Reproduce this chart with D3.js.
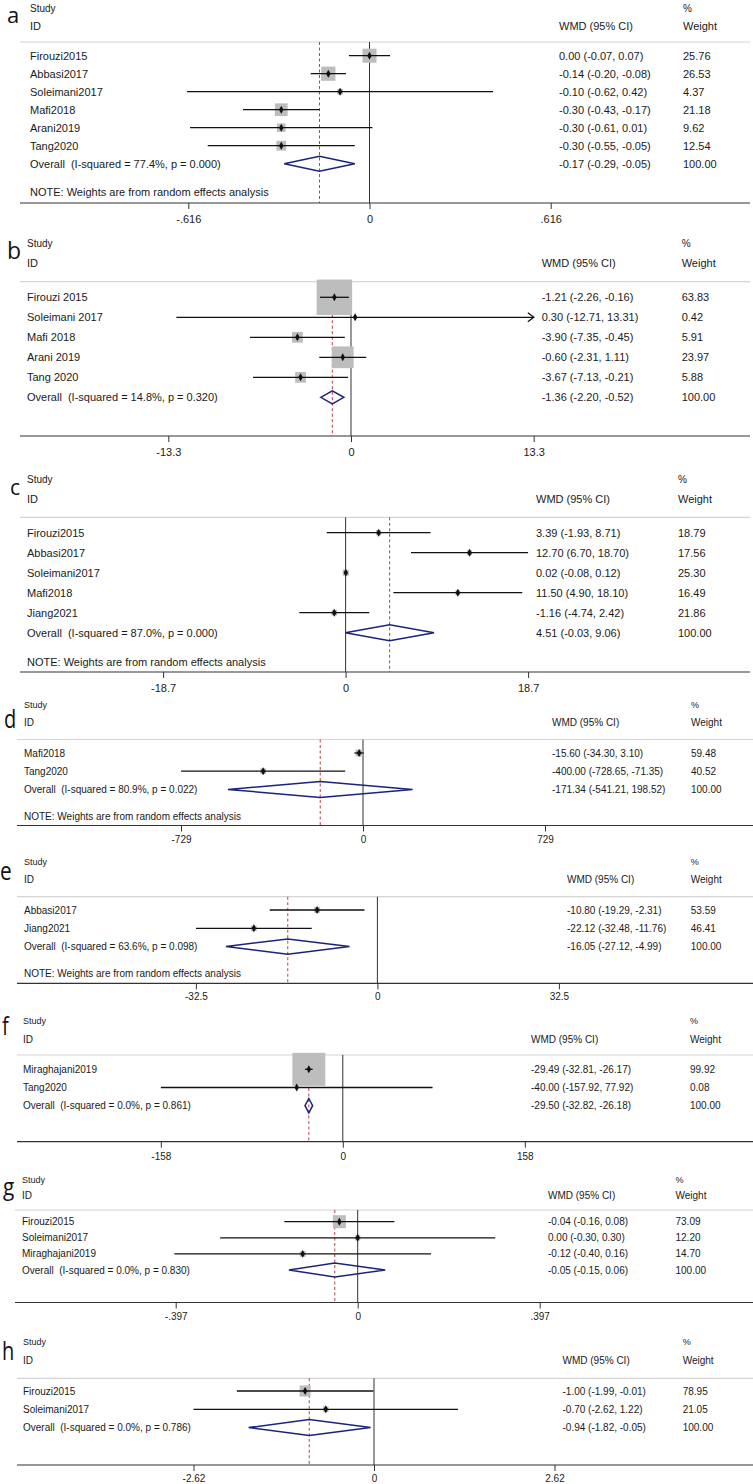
<!DOCTYPE html>
<html>
<head>
<meta charset="utf-8">
<script src="https://cdn.jsdelivr.net/npm/d3@7"></script>
<style>
  body { margin: 0; background: #fff; }
  text { font-family: "Liberation Sans", Arial, sans-serif; fill: #1a1a1a; }
</style>
</head>
<body>
<div class="forest"></div>
<script>
// panel a
var aStudy = ["Firouzi2015", "Abbasi2017", "Soleimani2017", "Mafi2018", "Arani2019", "Tang2020"];
var aWmd = [0.00, -0.14, -0.10, -0.30, -0.30, -0.30];
var aLo = [-0.07, -0.20, -0.62, -0.43, -0.61, -0.55];
var aHi = [0.07, -0.08, 0.42, -0.17, 0.01, -0.05];
var aWeight = [25.76, 26.53, 4.37, 21.18, 9.62, 12.54];
var aOverall = [-0.17, -0.29, -0.05];
var aHet = [77.4, 0.000];
var aTicks = [-0.616, 0, 0.616];
var aTickLabels = ["-.616", "0", ".616"];

// panel b
var bStudy = ["Firouzi 2015", "Soleimani 2017", "Mafi 2018", "Arani 2019", "Tang 2020"];
var bWmd = [-1.21, 0.30, -3.90, -0.60, -3.67];
var bLo = [-2.26, -12.71, -7.35, -2.31, -7.13];
var bHi = [-0.16, 13.31, -0.45, 1.11, -0.21];
var bWeight = [63.83, 0.42, 5.91, 23.97, 5.88];
var bOverall = [-1.36, -2.20, -0.52];
var bHet = [14.8, 0.320];
var bTicks = [-13.3, 0, 13.3];
var bTickLabels = ["-13.3", "0", "13.3"];

// panel c
var cStudy = ["Firouzi2015", "Abbasi2017", "Soleimani2017", "Mafi2018", "Jiang2021"];
var cWmd = [3.39, 12.70, 0.02, 11.50, -1.16];
var cLo = [-1.93, 6.70, -0.08, 4.90, -4.74];
var cHi = [8.71, 18.70, 0.12, 18.10, 2.42];
var cWeight = [18.79, 17.56, 25.30, 16.49, 21.86];
var cOverall = [4.51, -0.03, 9.06];
var cHet = [87.0, 0.000];
var cTicks = [-18.7, 0, 18.7];
var cTickLabels = ["-18.7", "0", "18.7"];

// panel d
var dStudy = ["Mafi2018", "Tang2020"];
var dWmd = [-15.60, -400.00];
var dLo = [-34.30, -728.65];
var dHi = [3.10, -71.35];
var dWeight = [59.48, 40.52];
var dOverall = [-171.34, -541.21, 198.52];
var dHet = [80.9, 0.022];
var dTicks = [-729, 0, 729];
var dTickLabels = ["-729", "0", "729"];

// panel e
var eStudy = ["Abbasi2017", "Jiang2021"];
var eWmd = [-10.80, -22.12];
var eLo = [-19.29, -32.48];
var eHi = [-2.31, -11.76];
var eWeight = [53.59, 46.41];
var eOverall = [-16.05, -27.12, -4.99];
var eHet = [63.6, 0.098];
var eTicks = [-32.5, 0, 32.5];
var eTickLabels = ["-32.5", "0", "32.5"];

// panel f
var fStudy = ["Miraghajani2019", "Tang2020"];
var fWmd = [-29.49, -40.00];
var fLo = [-32.81, -157.92];
var fHi = [-26.17, 77.92];
var fWeight = [99.92, 0.08];
var fOverall = [-29.50, -32.82, -26.18];
var fHet = [0.0, 0.861];
var fTicks = [-158, 0, 158];
var fTickLabels = ["-158", "0", "158"];

// panel g
var gStudy = ["Firouzi2015", "Soleimani2017", "Miraghajani2019"];
var gWmd = [-0.04, 0.00, -0.12];
var gLo = [-0.16, -0.30, -0.40];
var gHi = [0.08, 0.30, 0.16];
var gWeight = [73.09, 12.20, 14.70];
var gOverall = [-0.05, -0.15, 0.06];
var gHet = [0.0, 0.830];
var gTicks = [-0.397, 0, 0.397];
var gTickLabels = ["-.397", "0", ".397"];

// panel h
var hStudy = ["Firouzi2015", "Soleimani2017"];
var hWmd = [-1.00, -0.70];
var hLo = [-1.99, -2.62];
var hHi = [-0.01, 1.22];
var hWeight = [78.95, 21.05];
var hOverall = [-0.94, -1.82, -0.05];
var hHet = [0.0, 0.786];
var hTicks = [-2.62, 0, 2.62];
var hTickLabels = ["-2.62", "0", "2.62"];

var panels = [
  { id: "a", study: aStudy, wmd: aWmd, lo: aLo, hi: aHi, weight: aWeight, overall: aOverall, het: aHet, ticks: aTicks, tickLabels: aTickLabels, note: true },
  { id: "b", study: bStudy, wmd: bWmd, lo: bLo, hi: bHi, weight: bWeight, overall: bOverall, het: bHet, ticks: bTicks, tickLabels: bTickLabels, note: false },
  { id: "c", study: cStudy, wmd: cWmd, lo: cLo, hi: cHi, weight: cWeight, overall: cOverall, het: cHet, ticks: cTicks, tickLabels: cTickLabels, note: true },
  { id: "d", study: dStudy, wmd: dWmd, lo: dLo, hi: dHi, weight: dWeight, overall: dOverall, het: dHet, ticks: dTicks, tickLabels: dTickLabels, note: true },
  { id: "e", study: eStudy, wmd: eWmd, lo: eLo, hi: eHi, weight: eWeight, overall: eOverall, het: eHet, ticks: eTicks, tickLabels: eTickLabels, note: true },
  { id: "f", study: fStudy, wmd: fWmd, lo: fLo, hi: fHi, weight: fWeight, overall: fOverall, het: fHet, ticks: fTicks, tickLabels: fTickLabels, note: false },
  { id: "g", study: gStudy, wmd: gWmd, lo: gLo, hi: gHi, weight: gWeight, overall: gOverall, het: gHet, ticks: gTicks, tickLabels: gTickLabels, note: false },
  { id: "h", study: hStudy, wmd: hWmd, lo: hLo, hi: hHi, weight: hWeight, overall: hOverall, het: hHet, ticks: hTicks, tickLabels: hTickLabels, note: false }
];

// where each panel sits on the page
var layout = {
  a: { studyY: 8, idY: 25.5, sepY: 42, row0: 55.7, step: 18, noteY: 192, axisY: 203, zeroX: 369.5, span: 181.2, labelX: 30, wmdX: 559, wtX: 683, font: 11, hFont: 10, x0: 20, x1: 750, boxMax: 27.6, dia: 7.5, tickPad: 6, lx: 7, ly: 23, ls: 22, lsx: 1 },
  b: { studyY: 243, idY: 263, sepY: 281.7, row0: 297.3, step: 20, noteY: 0, axisY: 436, zeroX: 351, span: 182.7, labelX: 27, wmdX: 541.7, wtX: 681.7, font: 11, hFont: 10, x0: 20, x1: 750, boxMax: 44.4, dia: 6.5, tickPad: 6, lx: 7, ly: 259, ls: 23, lsx: 1 },
  c: { studyY: 479, idY: 499, sepY: 517.3, row0: 532.7, step: 20, noteY: 661.7, axisY: 672, zeroX: 345.6, span: 182.5, labelX: 27, wmdX: 536, wtX: 678, font: 11, hFont: 10, x0: 20, x1: 750, boxMax: 12, dia: 8, tickPad: 6, lx: 10, ly: 495, ls: 21, lsx: 1 },
  d: { studyY: 705, idY: 722, sepY: 739.5, row0: 753, step: 18.2, noteY: 816.7, axisY: 825.5, zeroX: 363, span: 182, labelX: 24, wmdX: 552, wtX: 691, font: 10, hFont: 9, x0: 17, x1: 753, boxMax: 9, dia: 8, tickPad: 4, lx: 4, ly: 728, ls: 25, lsx: 0.8 },
  e: { studyY: 862, idY: 879.3, sepY: 896.7, row0: 910, step: 18.3, noteY: 973.3, axisY: 983.3, zeroX: 377.4, span: 181.5, labelX: 24, wmdX: 567, wtX: 690.8, font: 10, hFont: 9, x0: 17, x1: 753, boxMax: 8.2, dia: 7.7, tickPad: 4, lx: 0, ly: 880, ls: 26, lsx: 0.8 },
  f: { studyY: 1020.7, idY: 1039, sepY: 1055, row0: 1069.3, step: 18.2, noteY: 0, axisY: 1141.7, zeroX: 342.8, span: 182, labelX: 23, wmdX: 531, wtX: 690, font: 10, hFont: 9, x0: 17, x1: 753, boxMax: 33, dia: 7.2, tickPad: 5, lx: 2, ly: 1035, ls: 25, lsx: 0.8 },
  g: { studyY: 1179.5, idY: 1195, sepY: 1210, row0: 1221.7, step: 16.1, noteY: 0, axisY: 1302.5, zeroX: 357.7, span: 182, labelX: 22, wmdX: 548, wtX: 675.5, font: 10, hFont: 9, x0: 15, x1: 753, boxMax: 15.2, dia: 7, tickPad: 4, lx: 3, ly: 1195, ls: 23, lsx: 0.9 },
  h: { studyY: 1342.3, idY: 1360.7, sepY: 1378.3, row0: 1391, step: 18.3, noteY: 0, axisY: 1465, zeroX: 374, span: 180.5, labelX: 23, wmdX: 562.5, wtX: 682.7, font: 10, hFont: 9, x0: 17, x1: 753, boxMax: 12.4, dia: 8, tickPad: 4, lx: 2, ly: 1360, ls: 25, lsx: 0.8 }
};

var locale = d3.formatLocale({ decimal: ".", thousands: ",", grouping: [3], currency: ["", ""], minus: "-" });
var fmt = locale.format(".2f");
var fmt1 = locale.format(".1f");
var fmt3 = locale.format(".3f");

var svg = d3
  .select(".forest")
  .append("svg")
  .attr("width", 753)
  .attr("height", 1484)
  .style("background", "#fff");

panels.forEach(function(p) {
  var L = layout[p.id];
  var g = svg.append("g");
  var n = p.study.length;

  var x = d3.scaleLinear().domain([0, p.ticks[2]]).range([L.zeroX, L.zeroX + L.span]);
  var y = d3.scaleLinear().domain([0, 1]).range([L.row0, L.row0 + L.step]);
  var box = d3.scaleSqrt().domain([0, 100]).range([0, L.boxMax]);

  var rows = p.study.map(function(s, i) {
    return { name: s, wmd: p.wmd[i], lo: p.lo[i], hi: p.hi[i], w: p.weight[i], i: i };
  });

  // panel letter
  g.append("text")
    .attr("transform", "translate(" + L.lx + "," + L.ly + ") scale(" + L.lsx + ",1)")
    .style("font-family", "'Open Sans', sans-serif")
    .style("font-size", L.ls + "px")
    .style("fill", "#111")
    .text(p.id);

  // headers
  var head = [
    { t: "Study", x: L.labelX, y: L.studyY, s: L.hFont },
    { t: "ID", x: L.labelX, y: L.idY, s: L.font },
    { t: "WMD (95% CI)", x: L.wmdX, y: L.idY, s: L.font },
    { t: "%", x: L.wtX, y: L.studyY, s: L.hFont },
    { t: "Weight", x: L.wtX, y: L.idY, s: L.font }
  ];
  g.selectAll(".head")
    .data(head)
    .enter()
    .append("text")
    .attr("x", function(d) { return d.x; })
    .attr("y", function(d) { return d.y; })
    .attr("dominant-baseline", "central")
    .style("font-size", function(d) { return d.s + "px"; })
    .text(function(d) { return d.t; });

  // separator under the header
  g.append("line")
    .attr("x1", L.x0).attr("x2", L.x1)
    .attr("y1", L.sepY).attr("y2", L.sepY)
    .attr("stroke", "#d4d4d4")
    .attr("stroke-width", 1.2);

  // no-effect line
  g.append("line")
    .attr("x1", x(0)).attr("x2", x(0))
    .attr("y1", L.sepY).attr("y2", L.axisY)
    .attr("stroke", "#333")
    .attr("stroke-width", 1);

  // pooled estimate line
  g.append("line")
    .attr("x1", x(p.overall[0])).attr("x2", x(p.overall[0]))
    .attr("y1", L.sepY).attr("y2", L.axisY)
    .attr("stroke", "#b8424a")
    .attr("stroke-width", 1)
    .attr("stroke-dasharray", "3,2.5");

  // weight boxes
  g.selectAll(".box")
    .data(rows)
    .enter()
    .append("rect")
    .attr("x", function(d) { return x(d.wmd) - box(d.w) / 2; })
    .attr("y", function(d) { return y(d.i) - box(d.w) / 2; })
    .attr("width", function(d) { return box(d.w); })
    .attr("height", function(d) { return box(d.w); })
    .attr("fill", "#bdbdbd");

  // confidence intervals
  g.selectAll(".ci")
    .data(rows)
    .enter()
    .append("line")
    .attr("x1", function(d) { return x(d.lo); })
    .attr("x2", function(d) { return x(d.hi); })
    .attr("y1", function(d) { return y(d.i); })
    .attr("y2", function(d) { return y(d.i); })
    .attr("stroke", "#111")
    .attr("stroke-width", 1.3);

  // arrow when the interval runs past the last tick
  g.selectAll(".arrow")
    .data(rows.filter(function(d) { return d.hi > p.ticks[2] + 1e-9; }))
    .enter()
    .append("path")
    .attr("d", function(d) {
      var tx = x(d.hi), ty = y(d.i);
      return "M" + (tx - 6) + "," + (ty - 4.5) + "L" + tx + "," + ty + "L" + (tx - 6) + "," + (ty + 4.5);
    })
    .attr("fill", "none")
    .attr("stroke", "#111")
    .attr("stroke-width", 1.3);

  // point estimates
  g.selectAll(".pt")
    .data(rows)
    .enter()
    .append("path")
    .attr("d", d3.symbol().type(d3.symbolDiamond).size(18))
    .attr("transform", function(d) { return "translate(" + x(d.wmd) + "," + y(d.i) + ")"; })
    .attr("fill", "#111");

  // pooled diamond
  var oy = y(n);
  g.append("path")
    .attr("d", "M" + x(p.overall[1]) + "," + oy +
      "L" + x(p.overall[0]) + "," + (oy - L.dia) +
      "L" + x(p.overall[2]) + "," + oy +
      "L" + x(p.overall[0]) + "," + (oy + L.dia) + "Z")
    .attr("fill", "none")
    .attr("stroke", "#1b237a")
    .attr("stroke-width", 1.5);

  // row texts
  var textRows = rows.map(function(d) {
    return { y: y(d.i), label: d.name, ci: fmt(d.wmd) + " (" + fmt(d.lo) + ", " + fmt(d.hi) + ")", w: fmt(d.w) };
  });
  textRows.push({
    y: oy,
    label: "Overall  (I-squared = " + fmt1(p.het[0]) + "%, p = " + fmt3(p.het[1]) + ")",
    ci: fmt(p.overall[0]) + " (" + fmt(p.overall[1]) + ", " + fmt(p.overall[2]) + ")",
    w: fmt(100)
  });
  var cols = [
    { k: "label", x: L.labelX },
    { k: "ci", x: L.wmdX },
    { k: "w", x: L.wtX }
  ];
  cols.forEach(function(c) {
    g.selectAll(".t-" + c.k)
      .data(textRows)
      .enter()
      .append("text")
      .attr("x", c.x)
      .attr("y", function(d) { return d.y; })
      .attr("dominant-baseline", "central")
      .style("font-size", L.font + "px")
      .style("white-space", "pre")
      .text(function(d) { return d[c.k]; });
  });

  if (p.note) {
    g.append("text")
      .attr("x", L.labelX)
      .attr("y", L.noteY)
      .attr("dominant-baseline", "central")
      .style("font-size", L.font + "px")
      .text("NOTE: Weights are from random effects analysis");
  }

  // x axis
  g.append("line")
    .attr("x1", L.x0).attr("x2", L.x1)
    .attr("y1", L.axisY).attr("y2", L.axisY)
    .attr("stroke", "#333")
    .attr("stroke-width", 1.2);

  var axis = g.append("g")
    .attr("transform", "translate(0," + L.axisY + ")")
    .call(
      d3.axisBottom(x)
        .tickValues(p.ticks)
        .tickSize(6)
        .tickPadding(L.tickPad)
        .tickFormat(function(d, i) { return p.tickLabels[i]; })
    );
  axis.select(".domain").remove();
  axis.selectAll(".tick line").attr("stroke", "#333");
  axis.selectAll(".tick text")
    .style("font-family", "'Liberation Sans', Arial, sans-serif")
    .style("font-size", L.font + "px")
    .style("fill", "#1a1a1a");
});
</script>
</body>
</html>
